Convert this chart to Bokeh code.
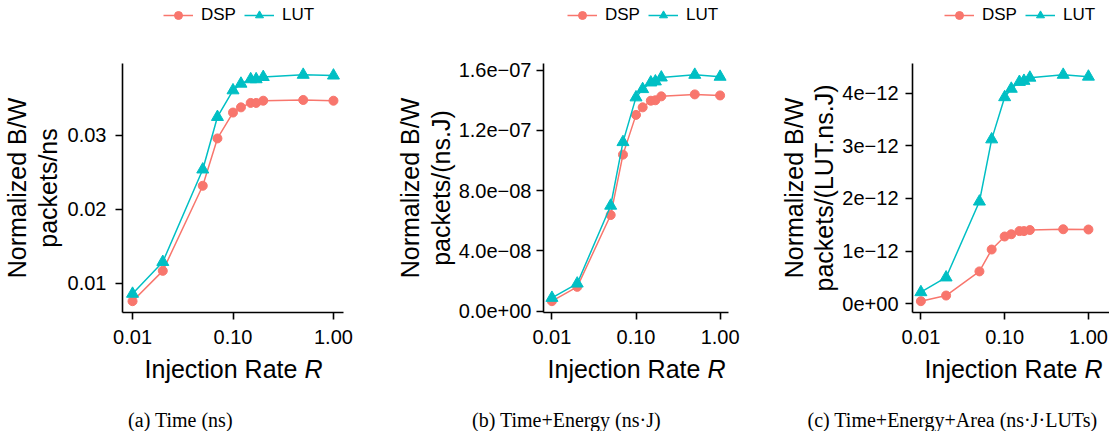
import numpy as np
from bokeh.plotting import figure
from bokeh.models import Range1d, FixedTicker, Label, Legend, LegendItem
from bokeh.layouts import row, column
from bokeh.embed import file_html
from bokeh.resources import INLINE

# ---------------- data ----------------
rate = [0.01, 0.02, 0.05, 0.07, 0.10, 0.12, 0.15, 0.17, 0.20, 0.50, 1.00]

time_dsp = [0.0076, 0.0117, 0.0232, 0.0296, 0.0331, 0.0338, 0.0344, 0.0344, 0.0347, 0.0348, 0.0347]
time_lut = [0.0086, 0.0129, 0.0254, 0.0325, 0.0361, 0.0370, 0.0376, 0.0376, 0.0379, 0.0382, 0.0381]

te_dsp = [0.66e-8, 1.61e-8, 6.38e-8, 1.039e-7, 1.303e-7, 1.353e-7, 1.397e-7, 1.400e-7, 1.426e-7, 1.439e-7, 1.432e-7]
te_lut = [0.88e-8, 1.83e-8, 7.00e-8, 1.122e-7, 1.419e-7, 1.474e-7, 1.518e-7, 1.525e-7, 1.551e-7, 1.569e-7, 1.556e-7]

tea_dsp = [0.05e-12, 0.157e-12, 0.615e-12, 1.03e-12, 1.277e-12, 1.32e-12, 1.38e-12, 1.38e-12, 1.40e-12, 1.415e-12, 1.41e-12]
tea_lut = [0.22e-12, 0.50e-12, 1.94e-12, 3.12e-12, 3.92e-12, 4.08e-12, 4.21e-12, 4.23e-12, 4.29e-12, 4.345e-12, 4.31e-12]

x_ticks = [0.01, 0.1, 1.0]
x_tick_labels = ["0.01", "0.10", "1.00"]

a_ticks = [0.01, 0.02, 0.03]
a_tick_labels = ["0.01", "0.02", "0.03"]
b_ticks = [0.0, 4e-8, 8e-8, 1.2e-7, 1.6e-7]
b_tick_labels = ["0.0e+00", "4.0e\u221208", "8.0e\u221208", "1.2e\u221207", "1.6e\u221207"]
c_ticks = [0.0, 1e-12, 2e-12, 3e-12, 4e-12]
c_tick_labels = ["0e+00", "1e\u221212", "2e\u221212", "3e\u221212", "4e\u221212"]

series_names = ["DSP", "LUT"]
y_titles = ["Normalized B/W\npackets/ns", "Normalized B/W\npackets/(ns.J)", "Normalized B/W\npackets/(LUT.ns.J)"]
x_title = "Injection Rate"
x_title_var = "R"
captions = ["(a) Time (ns)", "(b) Time+Energy (ns\u00b7J)", "(c) Time+Energy+Area (ns\u00b7J\u00b7LUTs)"]

# ---------------- style ----------------
RED = "#F8766D"
CYAN = "#00BFC4"
SANS = "Liberation Sans"
SERIF = "Liberation Serif"
TICK_FS = 20
TITLE_FS = 25
TOTAL_W = 1109
TOP_H = 40          # legend strip
MAIN_H = 310        # plots with ticks
BOT_H = 81          # x titles + captions
FRAME_TOP = 23
FH = 249


def blank(width, height):
    f = figure(width=width, height=height, output_backend="svg", toolbar_location=None,
               x_axis_location=None, y_axis_location=None,
               x_range=Range1d(0, width), y_range=Range1d(0, height),
               min_border=0, min_border_left=0, min_border_right=0,
               min_border_top=0, min_border_bottom=0)
    f.outline_line_color = None
    f.grid.visible = False
    return f


# ---- legend strip (one legend above each panel) ----
top = blank(TOTAL_W, TOP_H)
nan = np.array([np.nan])   # legend-only renderers, nothing drawn in the strip
l1 = top.line(nan, nan, line_color=RED, line_width=1.5)
s1 = top.scatter(nan, nan, marker="circle", fill_color=RED, line_color=RED)
l2 = top.line(nan, nan, line_color=CYAN, line_width=1.5)
s2 = top.scatter(nan, nan, marker="triangle", fill_color=CYAN, line_color=CYAN)
for lx in (163, 567, 944):
    top.add_layout(Legend(items=[LegendItem(label=series_names[0], renderers=[l1, s1]),
                                 LegendItem(label=series_names[1], renderers=[l2, s2])],
                          location=(lx, 15), orientation="horizontal",
                          glyph_width=30, glyph_height=20, label_height=20,
                          label_standoff=8, spacing=8, padding=0, margin=0,
                          border_line_color=None, background_fill_alpha=0,
                          label_text_font=SANS, label_text_font_size="17px",
                          label_text_color="black"), "center")

# ---- text strip (x titles + captions) ----
bottom = blank(TOTAL_W, BOT_H)
for tc, cap, cc in zip((233, 636, 1013), captions, (180, 566, 952)):
    bottom.add_layout(Label(x=tc + 2.557 * TITLE_FS, y=63, x_units="screen", y_units="screen",
                            text=x_title, text_align="right", text_baseline="alphabetic",
                            text_font=SANS, text_font_size=f"{TITLE_FS}px", text_color="black"))
    bottom.add_layout(Label(x=tc + 2.835 * TITLE_FS, y=63, x_units="screen", y_units="screen",
                            text=x_title_var, text_align="left", text_baseline="alphabetic",
                            text_font=SANS, text_font_style="italic",
                            text_font_size=f"{TITLE_FS}px", text_color="black"))
    bottom.add_layout(Label(x=cc, y=12, x_units="screen", y_units="screen",
                            text=cap, text_align="center", text_baseline="alphabetic",
                            text_font=SERIF, text_font_size="20px", text_color="black"))


def main_plot(dsp, lut, yticks, ylabels, ytitle, width, left, fw, x_end, tick_std, label_std):
    lo = min(min(dsp), min(lut))
    hi = max(max(dsp), max(lut))
    span = hi - lo
    p = figure(width=width, height=MAIN_H, x_axis_type="log",
               x_range=Range1d(10 ** -2.1, x_end),
               y_range=Range1d(lo - 0.05 * span, hi + 0.05 * span),
               output_backend="svg", toolbar_location=None,
               min_border_left=left, min_border_right=width - left - fw,
               min_border_top=FRAME_TOP, min_border_bottom=MAIN_H - FRAME_TOP - FH)
    p.outline_line_color = None
    p.grid.visible = False

    p.line(rate, dsp, line_color=RED, line_width=1.5)
    p.scatter(rate, dsp, marker="circle", size=9, fill_color=RED, line_color=RED)
    p.line(rate, lut, line_color=CYAN, line_width=1.5)
    p.scatter(rate, lut, marker="triangle", size=12, fill_color=CYAN, line_color=CYAN)

    for ax in (p.xaxis[0], p.yaxis[0]):
        ax.axis_line_width = 1.6
        ax.axis_line_color = "black"
        ax.major_tick_line_width = 1.6
        ax.major_tick_line_color = "black"
        ax.major_tick_out = 7
        ax.major_tick_in = 0
        ax.minor_tick_out = 0
        ax.minor_tick_in = 0
        ax.major_label_text_font = SANS
        ax.major_label_text_font_size = f"{TICK_FS}px"
        ax.major_label_text_color = "black"

    p.xaxis.ticker = FixedTicker(ticks=x_ticks, minor_ticks=[])
    p.xaxis.major_label_overrides = dict(zip(x_ticks, x_tick_labels))
    p.xaxis.major_label_standoff = 10

    p.yaxis.ticker = FixedTicker(ticks=yticks, minor_ticks=[])
    p.yaxis.major_label_overrides = dict(zip(yticks, ylabels))
    p.yaxis.major_label_standoff = tick_std
    p.yaxis.axis_label = ytitle
    p.yaxis.axis_label_text_font = SANS
    p.yaxis.axis_label_text_font_size = f"{TITLE_FS}px"
    p.yaxis.axis_label_text_font_style = "normal"
    p.yaxis.axis_label_text_color = "black"
    p.yaxis.axis_label_text_line_height = 1.08
    p.yaxis.axis_label_standoff = label_std
    return p


pa = main_plot(time_dsp, time_lut, a_ticks, a_tick_labels, y_titles[0],
               width=370, left=122, fw=221, x_end=10 ** 0.1, tick_std=9, label_std=3)
pb = main_plot(te_dsp, te_lut, b_ticks, b_tick_labels, y_titles[1],
               width=370, left=173, fw=185, x_end=10 ** 0.1, tick_std=5, label_std=1)
pc = main_plot(tea_dsp, tea_lut, c_ticks, c_tick_labels, y_titles[2],
               width=369, left=172, fw=197, x_end=10 ** 0.2515, tick_std=7, label_std=1)

layout = column(top, row(pa, pb, pc), bottom)
open("out.html", "w").write(file_html(layout, INLINE))
